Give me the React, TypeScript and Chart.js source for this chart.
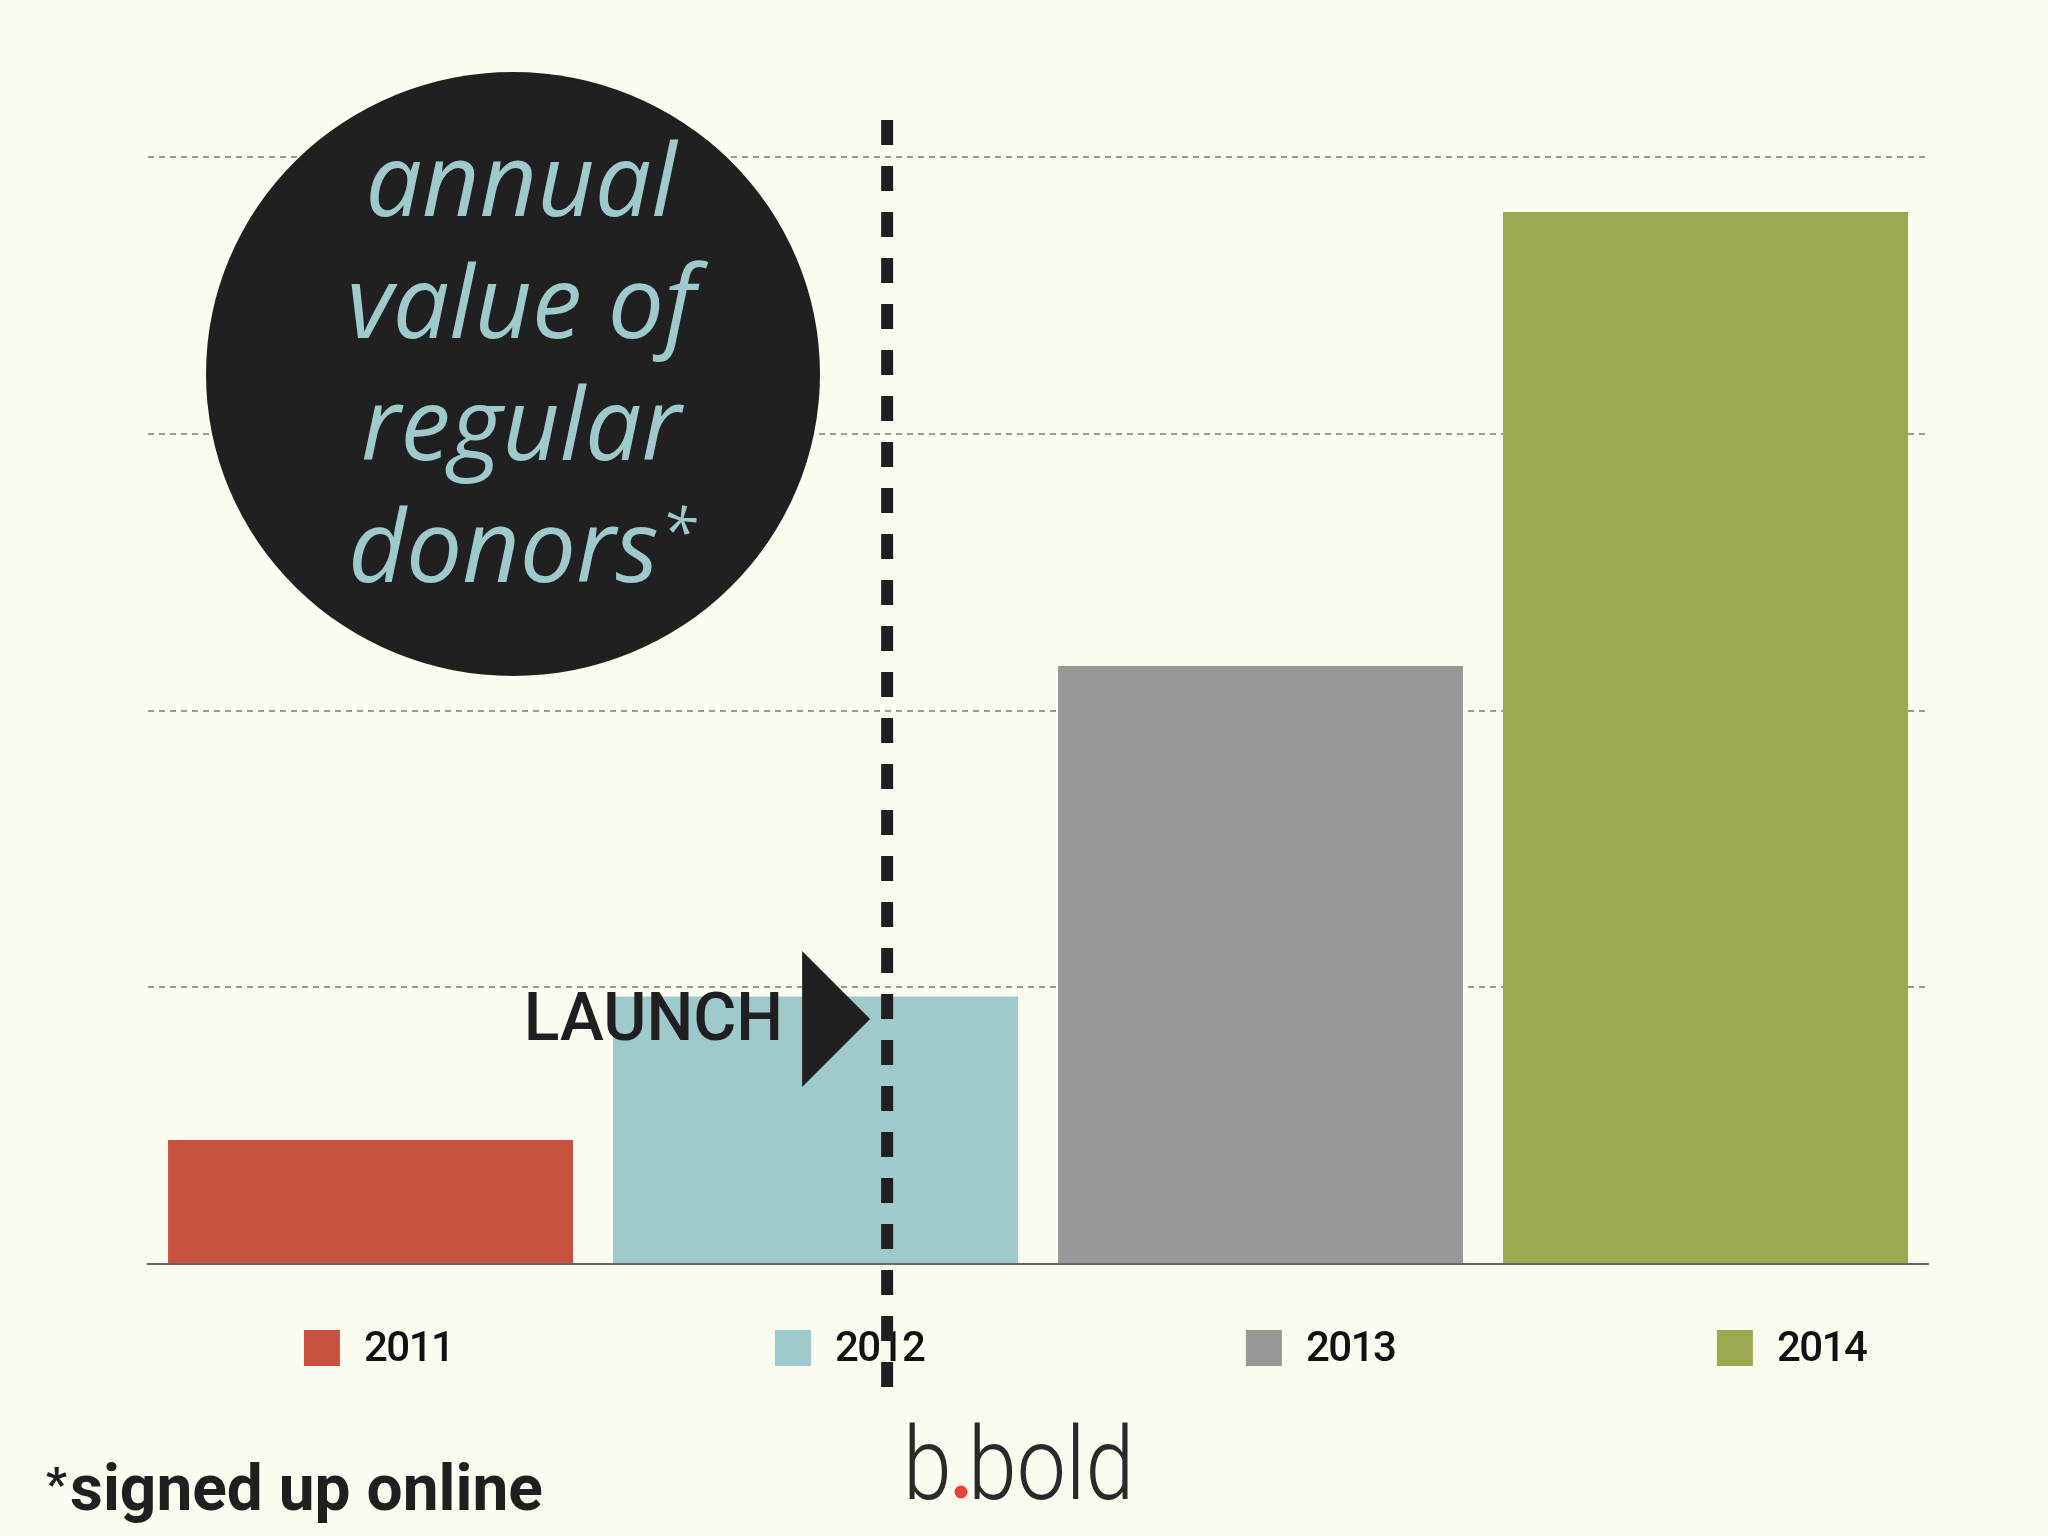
import React, { useEffect, useRef } from "react";
import { Chart, registerables } from "chart.js";

Chart.register(...registerables);

// ---- data ----
const years = ["2011", "2012", "2013", "2014"];
const donorValues = [0.448, 0.967, 2.161, 3.801];
const barColors = ["#C9533F", "#9ECACB", "#999798", "#9CA94F"];
const yTicks = [0, 1, 2, 3, 4];
const titleLines = ["annual", "value of", "regular", "donors"];
const titleMark = "*";
const launchLabel = "LAUNCH";
const launchIndex = 1.161; // launch point inside 2012 on the category axis
const launchMarkValue = 0.885; // vertical position of the arrow, in value units
const footnoteMark = "*";
const footnoteText = "signed up online";
const logoLead = "b";
const logoTail = "bold";

// ---- styles ----
const BG = "#FCFCF1";
const INK = "#1F1F1F";
const TEAL = "#9ECACB";
const BOLD_FONT = "Roboto, 'Noto Sans', sans-serif";

const decorPlugin = {
  id: "decor",
  beforeDraw(chart: any) {
    const { ctx, width, height } = chart;
    ctx.save();
    ctx.fillStyle = BG;
    ctx.fillRect(0, 0, width, height);
    ctx.restore();
  },
  afterDatasetsDraw(chart: any) {
    const { ctx, chartArea } = chart;
    const xs = chart.scales.x;
    const ys = chart.scales.y;
    const W = chartArea.right - chartArea.left;
    const bottom = chartArea.bottom;

    // --- legend (custom, evenly spaced) ---
    ctx.save();
    const pitch = W * 0.2646;
    const start = chartArea.left + W * 0.0876;
    years.forEach((yr, i) => {
      const x0 = start + i * pitch;
      ctx.fillStyle = barColors[i];
      ctx.fillRect(x0, bottom + 66, 36, 36);
      ctx.fillStyle = "#111";
      ctx.font = `500 42px ${BOLD_FONT}`;
      try { (ctx as any).letterSpacing = "-1.5px"; } catch (e) {}
      ctx.textAlign = "left";
      ctx.textBaseline = "alphabetic";
      ctx.fillText(yr, x0 + 60, bottom + 97);
    });
    try { (ctx as any).letterSpacing = "0px"; } catch (e) {}
    ctx.restore();

    // --- title circle ---
    ctx.save();
    const cx = 513, cy = 374;
    ctx.beginPath();
    ctx.ellipse(cx, cy, 307, 302, 0, 0, Math.PI * 2);
    ctx.fillStyle = "#202020";
    ctx.fill();
    ctx.fillStyle = TEAL;
    const titleFont = "'Open Sans', 'Noto Sans', sans-serif";
    ctx.textBaseline = "alphabetic";
    titleLines.forEach((t, i) => {
      const y = 216 + i * 122;
      ctx.font = `italic 400 100px ${titleFont}`;
      if (i === titleLines.length - 1) {
        const w = ctx.measureText(t).width;
        ctx.font = `italic 400 64px ${titleFont}`;
        const mw = ctx.measureText(titleMark).width;
        const left = cx + 8 - (w + mw) / 2;
        ctx.textAlign = "left";
        ctx.font = `italic 400 100px ${titleFont}`;
        ctx.fillText(t, left, y);
        ctx.font = `italic 400 64px ${titleFont}`;
        ctx.fillText(titleMark, left + w + 2, y - 28);
      } else {
        ctx.textAlign = "center";
        ctx.fillText(t, cx + 8, y);
      }
    });
    ctx.restore();

    // --- footnote ---
    ctx.save();
    ctx.fillStyle = INK;
    ctx.textAlign = "left";
    ctx.textBaseline = "alphabetic";
    ctx.font = `700 46px ${BOLD_FONT}`;
    ctx.fillText(footnoteMark, 46, 1500);
    ctx.font = `700 64px ${BOLD_FONT}`;
    ctx.fillText(footnoteText, 70, 1510);
    ctx.restore();

    // --- logo ---
    ctx.save();
    ctx.fillStyle = "#2a2a2a";
    ctx.textAlign = "left";
    ctx.textBaseline = "alphabetic";
    ctx.font = "300 102px Roboto, Lato, sans-serif";
    ctx.translate(0, 1499);
    ctx.save();
    ctx.scale(0.86, 1);
    ctx.fillText(logoLead, 903 / 0.86, 0);
    ctx.fillText(logoTail, 968 / 0.86, 0);
    ctx.restore();
    ctx.beginPath();
    ctx.arc(961, -7, 6.5, 0, Math.PI * 2);
    ctx.fillStyle = "#E5443A";
    ctx.fill();
    ctx.restore();

    // --- launch marker ---
    const lx = xs.getPixelForValue(launchIndex);
    const ty = ys.getPixelForValue(launchMarkValue);
    ctx.save();
    ctx.fillStyle = INK;
    ctx.beginPath();
    ctx.moveTo(lx - 17, ty);
    ctx.lineTo(lx - 85, ty - 68);
    ctx.lineTo(lx - 85, ty + 68);
    ctx.closePath();
    ctx.fill();
    ctx.font = `500 66px ${BOLD_FONT}`;
    ctx.textAlign = "right";
    ctx.textBaseline = "alphabetic";
    ctx.fillText(launchLabel, lx - 104, ty + 21);
    ctx.restore();

    // --- dashed launch line ---
    ctx.save();
    ctx.strokeStyle = INK;
    ctx.lineWidth = 12;
    ctx.setLineDash([25, 21]);
    ctx.beginPath();
    ctx.moveTo(lx, chartArea.top - 37);
    ctx.lineTo(lx, bottom + 127);
    ctx.stroke();
    ctx.restore();
  },
};

export default function App() {
  const ref = useRef<HTMLCanvasElement | null>(null);

  useEffect(() => {
    if (!ref.current) return;
    const chart = new Chart(ref.current, {
      type: "bar",
      data: {
        labels: years,
        datasets: [
          {
            data: donorValues,
            backgroundColor: barColors,
            borderWidth: 0,
            categoryPercentage: 0.91,
            barPercentage: 1,
          },
        ],
      },
      options: {
        animation: false,
        responsive: true,
        maintainAspectRatio: false,
        layout: { padding: { left: 148, right: 120, top: 157, bottom: 272 } },
        plugins: {
          legend: { display: false },
          tooltip: { enabled: false },
        },
        scales: {
          x: {
            display: true,
            grid: { display: false, drawTicks: false },
            ticks: { display: false },
            border: { display: true, color: "#666666", width: 2 },
          },
          y: {
            display: true,
            min: 0,
            max: 4,
            afterBuildTicks: (scale: any) => {
              scale.ticks = yTicks.map((v) => ({ value: v }));
            },
            ticks: { display: false },
            grid: {
              drawTicks: false,
              lineWidth: 2,
              color: (c: any) => (c.tick && c.tick.value === 0 ? "rgba(0,0,0,0)" : "#9B9B9B"),
            },
            border: { display: false, dash: [6, 5] },
          },
        },
      },
      plugins: [decorPlugin],
    } as any);
    return () => chart.destroy();
  }, []);

  return (
    <div
      style={{
        position: "fixed",
        left: 0,
        top: 0,
        width: "2048px",
        height: "1536px",
        background: BG,
      }}
    >
      <canvas ref={ref} />
    </div>
  );
}
